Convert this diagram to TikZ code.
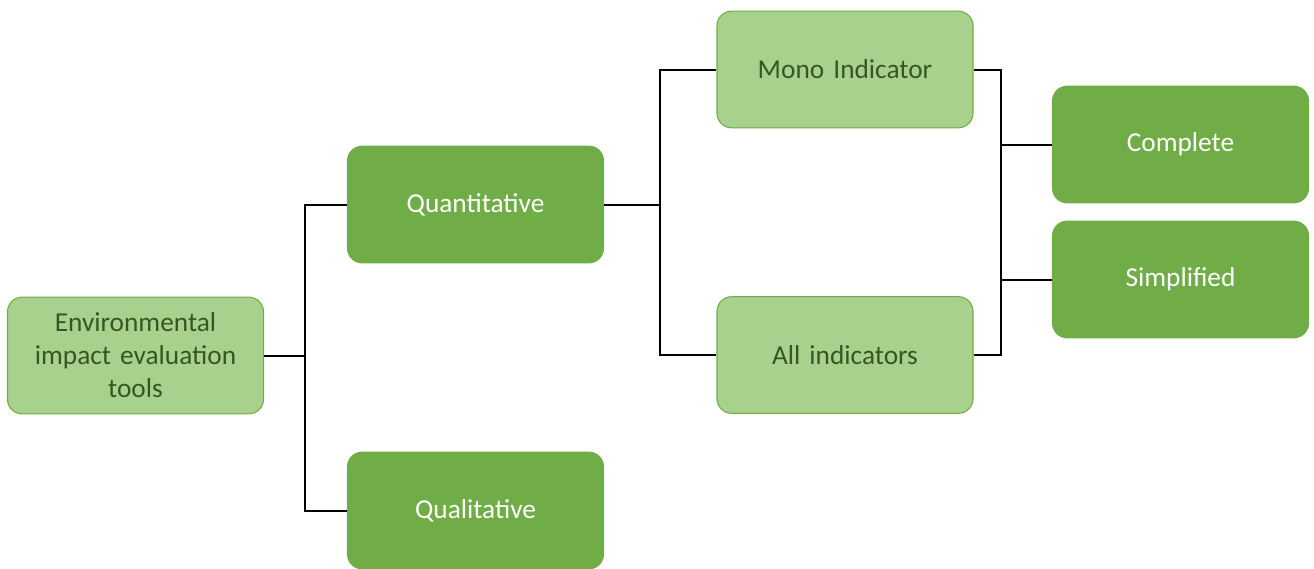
\documentclass[tikz,border=0pt]{standalone}
\usepackage{fontspec}
\setmainfont{Carlito}
\definecolor{lightfill}{HTML}{A9D18E}
\definecolor{darkfill}{HTML}{70AD47}
\definecolor{edgegreen}{HTML}{70AD47}
\definecolor{labelgreen}{HTML}{375623}
\tikzset{
  box/.style={rounded corners=11pt, draw=edgegreen, line width=0.8pt,
    minimum width=192pt, minimum height=87.5pt, inner sep=2pt,
    align=center, text width=185pt,
    font=\fontsize{20.5}{24.75}\selectfont},
  lightbox/.style={box, fill=lightfill, text=labelgreen},
  darkbox/.style={box, fill=darkfill, text=white},
  link/.style={draw=black, line width=1.5pt}
}
\begin{document}
\begin{tikzpicture}[x=0.75pt,y=-0.75pt]
  \useasboundingbox (0,0) rectangle (1314,568);
  % tree nodes
  \node[lightbox] (env)   at (135.5,355.5) {Environmental\\impact evaluation\\tools};
  \node[darkbox]  (quant) at (475.5,204.5) {Quantitative};
  \node[darkbox]  (qual)  at (475.5,510.5) {Qualitative};
  \node[lightbox] (mono)  at (845,69.5)    {Mono Indicator};
  \node[lightbox] (all)   at (845,355)     {All indicators};
  \node[darkbox]  (comp)  at (1180.5,144.5) {Complete};
  \node[darkbox]  (simp)  at (1180.5,279.5) {Simplified};
  % branch points
  \coordinate (j1) at (305,355.5);
  \coordinate (j2) at (660,204.5);
  \coordinate (j3) at (1001,144.5);
  \coordinate (j4) at (1001,279.5);
  % connectors
  \draw[link] (env.east) -- (j1);
  \draw[link] (j1) |- (quant.west);
  \draw[link] (j1) |- (qual.west);
  \draw[link] (quant.east) -- (j2);
  \draw[link] (j2) |- (mono.west);
  \draw[link] (j2) |- (all.west);
  \draw[link] (mono.east) -| (j3);
  \draw[link] (all.east) -| (j4);
  \draw[link] (j3) -- (j4);
  \draw[link] (j3) -- (comp.west);
  \draw[link] (j4) -- (simp.west);
\end{tikzpicture}
\end{document}
